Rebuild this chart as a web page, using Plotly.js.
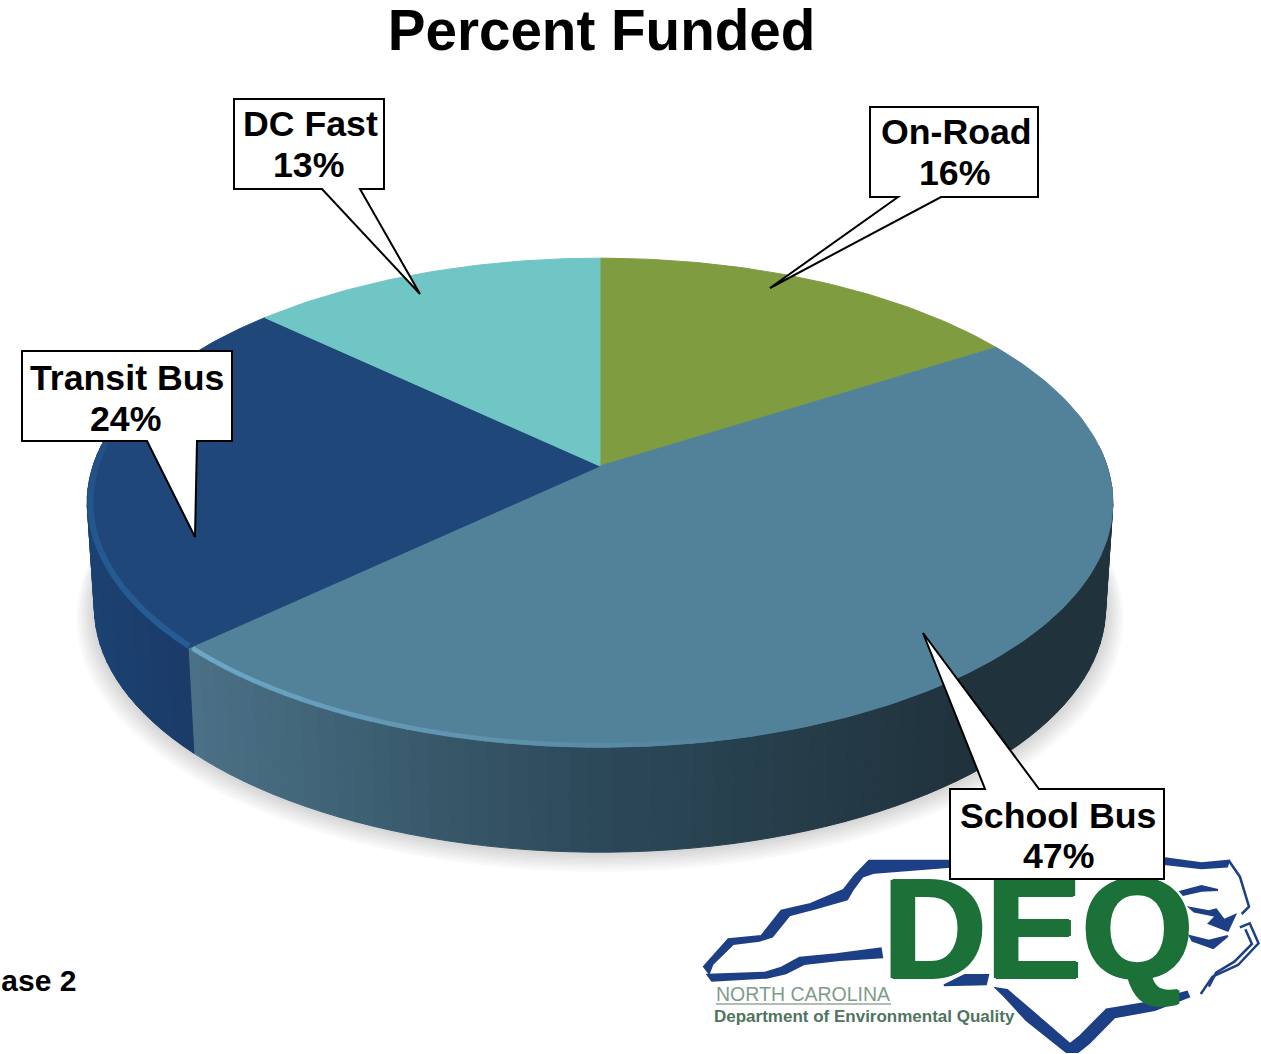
<!DOCTYPE html>
<html>
<head>
<meta charset="utf-8">
<script src="https://cdn.plot.ly/plotly-3.0.1.min.js"></script>
<style>html,body{margin:0;padding:0;background:#fff;overflow:hidden}#chart{width:1261px;height:1054px}</style>
</head>
<body>
<div id="chart"></div>
<script>
// ---- chart data ----
const categories = ['On-Road', 'School Bus', 'Transit Bus', 'DC Fast'];
const values = [16, 47, 24, 13];
const sliceColors = ['#809C41', '#52829A', '#1F4779', '#70C6C5'];
const chartTitle = 'Percent Funded';
const footnote = 'Phase 2';

// ---- pie geometry (tilted disc seen in perspective) ----
const CX = 600, CY = 466, RX = 507, RY = 239, PERSP = 0.15, DEPTH = 105, TAPER = 0.986;
function topPt(theta, r) {
  const t = theta * Math.PI / 180, u = r * Math.sin(t), v = r * Math.cos(t), d = 1 + PERSP * v;
  return [CX + RX * u / d, CY - RY * v / d];
}
function bottomPt(theta, r, extra) {
  const p = topPt(theta, r);
  return [CX + (p[0] - CX) * TAPER, p[1] + DEPTH + (extra || 0)];
}
function steps(a, b, step) {
  const out = [];
  for (let x = a; x < b; x += step) out.push(x);
  out.push(b);
  return out;
}
function mix(c1, c2, t) {
  t = Math.max(0, Math.min(1, t));
  const p = c => [1, 3, 5].map(i => parseInt(c.substr(i, 2), 16));
  const a = p(c1), b = p(c2);
  return 'rgb(' + a.map((x, i) => Math.round(x + (b[i] - x) * t)).join(',') + ')';
}
function poly(pts, fill, name) {
  return {
    type: 'scatter', mode: 'lines', x: pts.map(p => p[0]), y: pts.map(p => p[1]),
    fill: 'toself', fillcolor: fill, line: {color: fill, width: 1},
    hoverinfo: name ? 'text' : 'skip', text: name || '', showlegend: false
  };
}
function seg(pts, color, width) {
  return {
    type: 'scatter', mode: 'lines', x: pts.map(p => p[0]), y: pts.map(p => p[1]),
    line: {color: color, width: width}, hoverinfo: 'skip', showlegend: false
  };
}

// slice angles from the values
const total = values.reduce((a, b) => a + b, 0);
let acc = 0;
const angles = values.map(v => { const s = acc; acc += v; return [s / total * 360, acc / total * 360]; });

const traces = [];

// soft ground shadow
for (let i = 8; i >= 1; i--) {
  const r = 1 + i * 0.0042;
  traces.push(poly(steps(0, 360, 3).map(a => bottomPt(a, r, i * 1.0)), 'rgba(0,0,0,0.02)'));
}

// side wall
const WALL_A = 85, WALL_B = 275, WSTEP = 2;
angles.forEach((ang, i) => {
  const a = Math.max(ang[0], WALL_A), b = Math.min(ang[1], WALL_B);
  if (b <= a) return;
  const st = steps(a, b, WSTEP);
  for (let k = 0; k < st.length - 1; k++) {
    const a0 = st[k], a1 = st[k + 1];
    const x = topPt((a0 + a1) / 2, 1)[0];
    let col;
    if (i === 1) {
      const t = (x - 190) / 770;
      col = t < 0.5 ? mix('#4B7186', '#2D4A5B', t / 0.5) : mix('#2D4A5B', '#20333D', (t - 0.5) / 0.5);
    } else {
      col = mix('#1B3B68', '#1B4272', (185 - x) / 95);
    }
    traces.push(poly([topPt(a0, 1), topPt(a1, 1), bottomPt(a1, 1), bottomPt(a0, 1), topPt(a0, 1)], col));
  }
});

// top surface
angles.forEach((ang, i) => {
  const pts = [[CX, CY]].concat(steps(ang[0], ang[1], 1).map(a => topPt(a, 1)));
  pts.push([CX, CY]);
  traces.push(poly(pts, sliceColors[i], categories[i] + ' ' + values[i] + '%'));
});

// bevel highlight along the front rim
const rim = 0.994;
for (let a = 165; a < angles[1][1] - 0.3; a += 2) {
  const t = (a - 165) / (angles[1][1] - 165);
  traces.push(seg([topPt(a, rim), topPt(Math.min(a + 2.3, angles[1][1] - 0.3), rim)], mix('#52829A', '#70AACA', t), 4.5));
}
for (let a = angles[2][0] + 0.3; a < 288; a += 2) {
  const t = (a - angles[2][0]) / (288 - angles[2][0]);
  traces.push(seg([topPt(a, rim), topPt(a + 2.3, rim)], mix('#265B94', '#1F4779', t * t), 6));
}

// logo wordmark
traces.push({
  type: 'scatter', mode: 'text', x: [1038], y: [942], text: ['DEQ'], textposition: 'middle center',
  textfont: {family: 'Liberation Sans, Arial, sans-serif', size: 143, color: '#1B7138', weight: 700,
    shadow: '2px 0 #1B7138, -2px 0 #1B7138, 0 1px #1B7138, 0 -1px #1B7138'},
  hoverinfo: 'skip', showlegend: false, cliponaxis: false
});

// ---- callouts ----
const boxes = [
  {cat: 0, x0: 870, y0: 107, x1: 1038, y1: 197, edge: 'b', b0: 898, b1: 941, tip: [770, 288], tx: 956, tx2: 954, ty: [132, 173]},
  {cat: 1, x0: 950, y0: 789, x1: 1164, y1: 879, edge: 't', b0: 985, b1: 1039, tip: [923, 633], tx: 1058, tx2: 1058, ty: [816, 856]},
  {cat: 2, x0: 22, y0: 351, x1: 232, y1: 441, edge: 'b', b0: 147, b1: 197, tip: [195, 537], tx: 127, tx2: 125, ty: [378, 419]},
  {cat: 3, x0: 234, y0: 99, x1: 384, y1: 189, edge: 'b', b0: 322, b1: 360, tip: [420, 294], tx: 310, tx2: 308, ty: [124, 165]}
];
const shapes = boxes.map(b => {
  const tail = b.edge === 'b'
    ? `M${b.x0},${b.y0} L${b.x1},${b.y0} L${b.x1},${b.y1} L${b.b1},${b.y1} L${b.tip[0]},${b.tip[1]} L${b.b0},${b.y1} L${b.x0},${b.y1} Z`
    : `M${b.x0},${b.y0} L${b.b0},${b.y0} L${b.tip[0]},${b.tip[1]} L${b.b1},${b.y0} L${b.x1},${b.y0} L${b.x1},${b.y1} L${b.x0},${b.y1} Z`;
  return {type: 'path', xref: 'x', yref: 'y', layer: 'above', path: tail, fillcolor: '#fff', line: {color: '#000', width: 2}};
});

const labelFont = {family: 'Liberation Sans, Arial, sans-serif', size: 35.7, color: '#000'};
const annotations = [];
boxes.forEach(b => {
  [categories[b.cat], values[b.cat] + '%'].forEach((txt, k) => {
    annotations.push({xref: 'x', yref: 'y', x: k ? b.tx2 : b.tx, y: b.ty[k], text: '<b>' + txt + '</b>', showarrow: false,
      xanchor: 'center', yanchor: 'middle', font: labelFont});
  });
});
annotations.push({xref: 'x', yref: 'y', x: 78, y: 980, text: '<b>' + footnote + '</b>', showarrow: false,
  xanchor: 'right', yanchor: 'middle', font: {family: 'Liberation Sans, Arial, sans-serif', size: 30, color: '#000'}});
annotations.push({xref: 'x', yref: 'y', x: 714, y: 994, text: 'NORTH CAROLINA', showarrow: false,
  xanchor: 'left', yanchor: 'middle', font: {family: 'Liberation Sans, Arial, sans-serif', size: 19.5, color: '#7F9C88'}});
annotations.push({xref: 'x', yref: 'y', x: 712, y: 1016, text: '<b>Department of Environmental Quality</b>', showarrow: false,
  xanchor: 'left', yanchor: 'middle', font: {family: 'Liberation Sans, Arial, sans-serif', size: 17, color: '#4F7460'}});

// ---- logo outline of the state (crop coordinates, scaled to the page) ----
const LOGO_X = 690, LOGO_Y = 840, LOGO_SX = 2.737, LOGO_SY = 3;
const logoBlue = '#1D3F86';
const logoPieces = [
  [[38,380],[105,298],[195,288],[250,212],[330,192],[420,150],[450,108],[490,62],[720,62],[720,80],[505,98],[472,110],[445,150],[430,178],[345,205],[272,226],[225,290],[190,302],[118,312],[62,372],[52,400]],
  [[48,404],[205,398],[250,383],[300,353],[400,343],[522,325],[526,352],[410,360],[312,372],[262,400],[210,413],[60,422]],
  [[695,436],[752,405],[816,405],[810,433]],
  [[838,445],[868,450],[930,508],[1040,612],[1068,588],[1140,508],[1250,488],[1360,455],[1366,470],[1272,510],[1162,532],[1092,610],[1062,636],[1030,636],[920,540],[860,468]],
  [[1300,55],[1400,70],[1475,62],[1470,80],[1400,85],[1300,72]],
  [[1342,155],[1400,138],[1445,150],[1400,152],[1350,165]],
  [[1368,203],[1420,214],[1440,208],[1462,240],[1492,225],[1472,272],[1420,250],[1440,228],[1380,215]],
  [[1368,288],[1420,302],[1472,288],[1432,324],[1375,302]]
];
const logoLines = [
  [[1475,62],[1505,110],[1530,200],[1510,222]],
  [[1505,262],[1532,250],[1556,310],[1500,375],[1430,410],[1398,462]],
  [[1520,268],[1538,312],[1490,365],[1440,398],[1420,440]]
];
const toPage = p => (LOGO_X + p[0] / LOGO_SX) + ',' + (LOGO_Y + p[1] / LOGO_SY);
logoPieces.forEach(pts => shapes.push({type: 'path', xref: 'x', yref: 'y', layer: 'below',
  path: 'M' + pts.map(toPage).join(' L') + ' Z', fillcolor: logoBlue, line: {color: logoBlue, width: 2}}));
logoLines.forEach(pts => shapes.push({type: 'path', xref: 'x', yref: 'y', layer: 'below',
  path: 'M' + pts.map(toPage).join(' L'), line: {color: logoBlue, width: 2.5}}));
shapes.push({type: 'line', xref: 'x', yref: 'y', layer: 'below', x0: 716, x1: 891, y0: 1004, y1: 1004, line: {color: '#5E7F68', width: 1}});

const layout = {
  width: 1261, height: 1054, margin: {l: 0, r: 0, t: 0, b: 0},
  paper_bgcolor: '#fff', plot_bgcolor: '#fff', showlegend: false, hovermode: 'closest',
  title: {text: '<b>' + chartTitle + '</b>', x: 601.5 / 1261, xanchor: 'center', xref: 'paper', y: 1 - 30 / 1054, yanchor: 'middle', yref: 'container',
    font: {family: 'Liberation Sans, Arial, sans-serif', size: 56.6, color: '#000'}},
  xaxis: {range: [0, 1261], visible: false, fixedrange: true},
  yaxis: {range: [1054, 0], visible: false, fixedrange: true},
  shapes: shapes, annotations: annotations
};
Plotly.newPlot('chart', traces, layout, {displayModeBar: false, responsive: false});
</script>
</body>
</html>
